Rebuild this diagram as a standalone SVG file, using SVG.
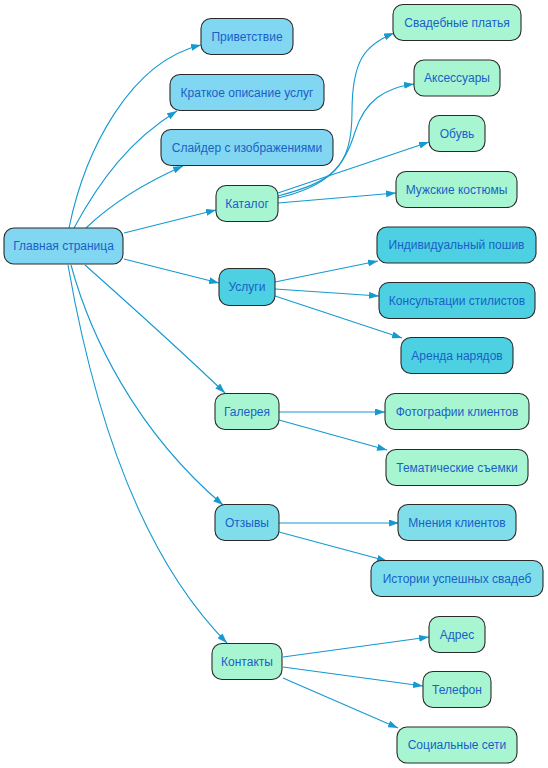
<svg xmlns="http://www.w3.org/2000/svg" width="548" height="768" viewBox="0 0 548 768">
<defs>
<marker id="arr" markerWidth="10" markerHeight="7" refX="10" refY="3.5" orient="auto" markerUnits="userSpaceOnUse">
<path d="M0,0 L10,3.5 L0,7 z" fill="#1499D1"/>
</marker>
<style>
.n rect{stroke:#2a2a2a;stroke-width:1.1}
.n text{font-family:"Liberation Sans",Arial,sans-serif;font-size:12px;fill:#1a5fc8;text-anchor:middle}
.b rect{fill:#81D6F2}
.c rect{fill:#80DEEA}
.d rect{fill:#4DD0E1}
.g rect{fill:#A8F5D2}
#edges path{fill:none;stroke:#1499D1;stroke-width:1.1;marker-end:url(#arr)}
</style>
</defs>
<rect width="548" height="768" fill="#ffffff"/>
<g id="edges">
<path d="M69,228 C85,150 130,62 201,45"/>
<path d="M74,228 C100,180 130,140 177,111"/>
<path d="M86,228 C110,205 140,185 183,166"/>
<path d="M124,233 L216,210"/>
<path d="M124,259 L219,283"/>
<path d="M85,265 C130,305 180,350 225,393"/>
<path d="M71,265 C90,335 135,430 223,505"/>
<path d="M68,265 C88,380 130,545 227,643"/>
<path d="M278,196 C330,182 352,170 352,112 C352,60 365,45 394,33"/>
<path d="M278,198 C330,186 345,165 355,132 C365,100 385,88 414,84"/>
<path d="M278,193 L429,142"/>
<path d="M278,203 L396,193"/>
<path d="M275,282 L378,261"/>
<path d="M275,289 L379,296"/>
<path d="M275,296 L402,338"/>
<path d="M279,412 L385,412"/>
<path d="M279,420 L387,450"/>
<path d="M279,523 L399,523"/>
<path d="M279,532 L387,561"/>
<path d="M283,657 L429,637"/>
<path d="M283,667 L423,686"/>
<path d="M283,678 L398,728"/>
</g>
<g id="n-main" class="n b"><rect x="4" y="228" width="119" height="36" rx="10"/><text x="63.5" y="250">Главная страница</text></g>
<g id="n-privet" class="n b"><rect x="201" y="18.5" width="92" height="36" rx="10"/><text x="247" y="40.5">Приветствие</text></g>
<g id="n-kratk" class="n b"><rect x="170" y="74.5" width="154" height="36" rx="10"/><text x="247" y="96.5">Краткое описание услуг</text></g>
<g id="n-slider" class="n b"><rect x="161" y="129.5" width="172" height="36" rx="10"/><text x="247" y="151.5">Слайдер с изображениями</text></g>
<g id="n-catalog" class="n g"><rect x="216" y="185.5" width="62" height="36" rx="10"/><text x="247" y="207.5">Каталог</text></g>
<g id="n-uslugi" class="n d"><rect x="219" y="268.5" width="56" height="37" rx="10"/><text x="247" y="291">Услуги</text></g>
<g id="n-gal" class="n g"><rect x="215" y="393.5" width="64" height="36" rx="10"/><text x="247" y="415.5">Галерея</text></g>
<g id="n-otz" class="n c"><rect x="215" y="504.5" width="64" height="36" rx="10"/><text x="247" y="526.5">Отзывы</text></g>
<g id="n-kont" class="n g"><rect x="212" y="643.5" width="70" height="36" rx="10"/><text x="247" y="665.5">Контакты</text></g>
<g id="n-svad" class="n g"><rect x="393" y="4.5" width="128" height="36" rx="10"/><text x="457" y="26.5">Свадебные платья</text></g>
<g id="n-aks" class="n g"><rect x="414" y="60" width="86" height="36" rx="10"/><text x="457" y="82">Аксессуары</text></g>
<g id="n-obuv" class="n g"><rect x="429" y="115.5" width="56" height="36" rx="10"/><text x="457" y="137.5">Обувь</text></g>
<g id="n-muzh" class="n g"><rect x="396" y="171.5" width="121" height="36" rx="10"/><text x="456.5" y="193.5">Мужские костюмы</text></g>
<g id="n-indiv" class="n d"><rect x="377" y="227" width="159" height="36" rx="10"/><text x="456.5" y="249">Индивидуальный пошив</text></g>
<g id="n-kons" class="n d"><rect x="379" y="282.5" width="156" height="36" rx="10"/><text x="457" y="304.5">Консультации стилистов</text></g>
<g id="n-arenda" class="n d"><rect x="401" y="337.5" width="112" height="36" rx="10"/><text x="457" y="359.5">Аренда нарядов</text></g>
<g id="n-foto" class="n g"><rect x="385" y="393.5" width="144" height="36" rx="10"/><text x="457" y="415.5">Фотографии клиентов</text></g>
<g id="n-temat" class="n g"><rect x="386" y="449.5" width="142" height="36" rx="10"/><text x="457" y="471.5">Тематические съемки</text></g>
<g id="n-mnen" class="n c"><rect x="398" y="504.5" width="118" height="36" rx="10"/><text x="457" y="526.5">Мнения клиентов</text></g>
<g id="n-istor" class="n c"><rect x="371" y="560.5" width="172" height="36" rx="10"/><text x="457" y="582.5">Истории успешных свадеб</text></g>
<g id="n-adres" class="n g"><rect x="429" y="616.5" width="56" height="36" rx="10"/><text x="457" y="638.5">Адрес</text></g>
<g id="n-telef" class="n g"><rect x="423" y="671.5" width="68" height="36" rx="10"/><text x="457" y="693.5">Телефон</text></g>
<g id="n-soc" class="n g"><rect x="397" y="727" width="120" height="36" rx="10"/><text x="457" y="749">Социальные сети</text></g>
</svg>
